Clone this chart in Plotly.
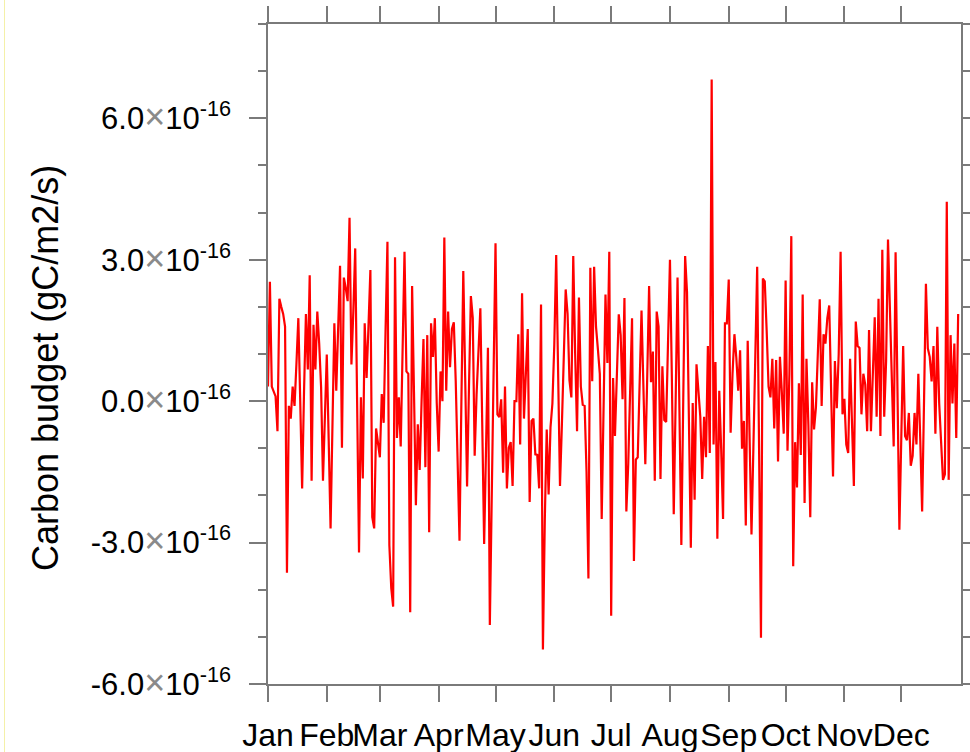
import numpy as np
import plotly.graph_objects as go

# Daily carbon budget, units of 1e-16 gC/m2/s
budget_e16 = [
    0.31, 2.53, 0.31, 0.22, 0.1, -0.64, 2.17, 2.0, 1.85, 1.58,
    -3.64, -0.10, -0.37, 0.31, -0.10, 0.8, 1.76, 0.0, -1.85, 0.2,
    1.85, 0.67, 2.67, -1.69, 1.62, 0.67, 1.90, 1.22, 0.3, -1.69,
    -0.4, 0.99, -0.8, -2.70, -0.5, 1.65, 0.22, 1.5, 2.87, -0.99,
    2.62, 2.4, 2.12, 3.89, 0.78, 1.9, 3.24, 0.0, -3.21, 0.08,
    -1.64, 1.65, 0.49, 1.6, 2.78, -2.46, -2.70, -0.58, -0.9, -1.19,
    0.15, -0.46, 1.5, 3.38, -3.05, -3.96, -4.36, 3.05, -0.78, 0.08,
    -0.96, 1.2, 3.17, 0.63, 0.58, -4.48, 2.44, 0.2, -2.21, -0.49,
    -1.46, 0.0, 1.32, -1.40, 1.40, -2.78, 1.65, 0.94, 1.76, -0.04,
    -1.07, 0.63, 0.0, 3.47, 0.22, 1.90, 0.72, 1.53, 1.67, 0.44,
    -1.0, -2.96, 0.0, 2.76, 0.5, -1.81, 0.3, 2.23, 1.76, -1.16,
    0.13, 1.0, 1.97, -0.5, -3.03, -1.0, 1.13, -4.75, -2.0, 0.5,
    3.35, -0.28, -0.34, 0.04, -1.52, 0.31, -1.85, -0.99, -0.87, -1.80,
    0.0, 0.0, 1.42, -0.92, 2.29, -0.37, 0.6, 1.53, -2.14, -0.42,
    -0.37, -1.13, -1.14, -1.85, 2.05, -5.27, -2.5, -0.60, -1.98, -0.55,
    -0.05, 1.2, 3.10, 0.5, -1.80, -0.5, 1.0, 2.37, 1.85, 0.44,
    0.08, 3.08, 1.0, -0.64, 2.20, 0.31, -0.08, -0.10, -1.5, -3.76,
    2.83, 0.42, 2.85, 1.58, 1.1, 0.58, -2.50, 0.0, 2.26, 0.81,
    3.17, -4.55, 0.49, -0.74, 0.8, 1.84, 1.40, 0.04, 2.19, -2.34,
    -1.33, 0.2, 1.76, -3.39, -1.24, -1.19, 0.3, 1.92, 0.3, -1.34,
    0.5, 2.44, 0.40, 1.05, -1.69, 1.90, 1.58, -1.65, 0.74, -0.40,
    -0.44, 1.2, 3.00, 0.5, -2.40, 0.0, 2.62, -0.2, -3.05, 0.0,
    3.08, 2.31, -0.5, -3.11, -0.04, -2.09, 0.78, 0.2, -0.33, -1.65,
    -0.33, -1.19, 1.17, -1.10, 6.82, -0.92, 0.83, -2.92, 0.22, -1.0,
    -2.50, 1.65, 1.65, 2.58, -0.67, 0.58, 1.42, 0.92, 0.22, 1.08,
    -1.01, -0.42, -2.64, 1.28, -0.8, -2.83, -1.0, 0.8, 2.85, -1.0,
    -5.02, 2.60, 2.54, 1.5, 0.31, 0.08, 0.90, -0.58, 0.87, -1.28,
    0.94, 0.2, -0.69, 2.56, -1.05, 0.58, 3.50, -3.50, -0.87, -1.83,
    0.38, -1.14, 2.26, -2.16, 0.90, -0.5, -2.46, 0.40, -0.60, -0.13,
    1.0, 2.16, -0.10, 1.42, 1.22, 1.76, 2.03, 0.3, -1.60, 0.85,
    -0.15, 1.0, 3.17, -0.28, 0.05, -0.92, -1.10, 0.90, -0.3, -1.80,
    1.69, 1.17, 1.13, -0.28, 0.58, 0.35, -0.64, 1.51, -0.64, 0.56,
    1.78, -0.33, 2.17, -0.74, 3.21, -0.33, 0.85, 3.43, 2.0, 0.94,
    -0.96, 3.16, 0.5, -2.73, -0.8, 1.17, -0.74, -0.83, -0.25, -1.37,
    -1.16, -0.25, -0.92, 0.58, -0.8, -2.34, 0.0, 2.49, 1.12, 0.94,
    0.42, 1.17, -0.69, 1.58, -0.05, -1.0, -1.67, -1.55, 4.23, -1.67,
    1.40, -0.05, 1.22, -0.78, 1.85,
]
days = list(range(len(budget_e16)))

month_starts = [0, 31, 59, 90, 120, 151, 181, 212, 243, 273, 304, 334]
month_labels = ["Jan", "Feb", "Mar", "Apr", "May", "Jun",
                "Jul", "Aug", "Sep", "Oct", "Nov", "Dec"]

y_tick_mult = [-6.0, -3.0, 0.0, 3.0, 6.0]
y_tick_labels = [
    f"{v:.1f}<span style='color:#8a8a8a;font-size:36px'>×</span>10<sup>-16</sup>"
    for v in y_tick_mult
]

scale = 1e-16
y_vals = np.array(budget_e16) * scale

FONT = "Liberation Sans, Arial, Helvetica, sans-serif"
AX = "#7a7a7a"

fig = go.Figure()
fig.add_trace(go.Scatter(x=days, y=y_vals, mode="lines",
                         line=dict(color="#ff0000", width=2.2),
                         hoverinfo="skip", showlegend=False))

fig.update_layout(
    width=970, height=752,
    margin=dict(l=268, r=9, t=24, b=68, autoexpand=False),
    paper_bgcolor="white", plot_bgcolor="white",
    font=dict(family=FONT, size=30, color="black"),
)

fig.update_xaxes(
    range=[0, 365.5], showgrid=False, zeroline=False, automargin=False,
    tickmode="array", tickvals=month_starts, ticktext=month_labels, tickangle=0,
    ticks="outside", ticklen=16, tickwidth=1.5, tickcolor=AX,
    showline=True, linecolor=AX, linewidth=1.5, mirror="ticks",
    tickfont=dict(family=FONT, size=32, color="black"),
    ticklabelstandoff=6,
)
fig.update_yaxes(
    range=[-6 * scale, 8 * scale], showgrid=False, zeroline=False, automargin=False,
    tickmode="array", tickvals=[v * scale for v in y_tick_mult], ticktext=y_tick_labels,
    ticks="outside", ticklen=17, tickwidth=1.5, tickcolor=AX,
    minor=dict(tickmode="array", tickvals=[v * scale for v in range(-6, 9)],
               ticks="outside", ticklen=8, tickwidth=1.5, tickcolor=AX),
    showline=True, linecolor=AX, linewidth=1.5, mirror="ticks",
    tickfont=dict(family=FONT, size=31, color="black"),
    ticklabelstandoff=12,
)

fig.add_annotation(
    text="Carbon budget (gC/m2/s)", textangle=-90,
    xref="paper", yref="paper", x=(45 - 268) / 693, y=(684 - 368) / 660,
    xanchor="center", yanchor="middle", showarrow=False,
    font=dict(family=FONT, size=36, color="black"),
)

# thin yellowish frame line at the far left of the picture
fig.add_shape(type="line", xref="paper", yref="paper",
              x0=(4.5 - 268) / 693, x1=(4.5 - 268) / 693,
              y0=(684 - 752) / 660, y1=(684 - 0) / 660,
              line=dict(color="#f4f0a8", width=1))

fig.write_html("out.html")
